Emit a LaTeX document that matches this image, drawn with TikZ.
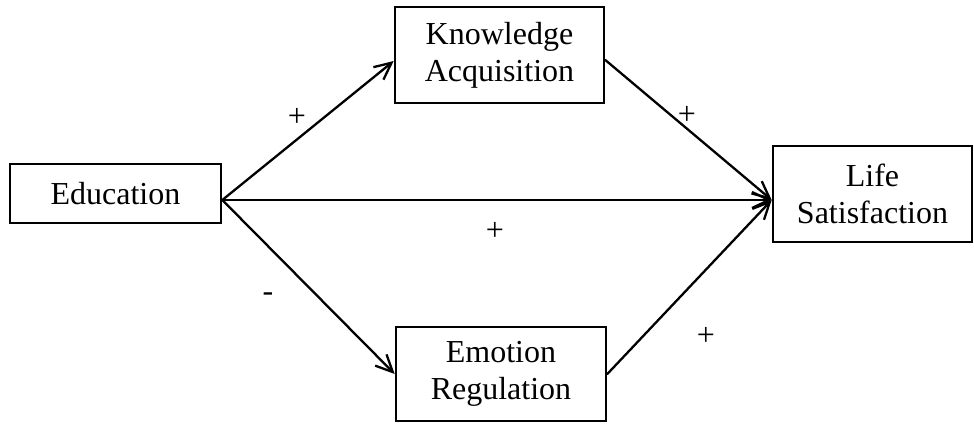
\documentclass[tikz,border=0pt]{standalone}
\usepackage{fontspec}
\setmainfont{Liberation Serif}
\usetikzlibrary{arrows.meta,calc}
\begin{document}
\begin{tikzpicture}[x=1pt,y=-1pt,
  box/.style={draw=black, line width=2.6pt, fill=white, inner sep=0pt, align=center,
    font=\fontsize{32}{37}\selectfont},
  conn/.style={draw=black, line width=2.3pt, line cap=round,
    -{Straight Barb[length=17pt,width=16pt]}},
  sign/.style={font=\fontsize{32}{37}\selectfont, inner sep=0pt}]
\useasboundingbox (0,0) rectangle (974,423);
\node[box, minimum width=211pt, minimum height=59pt] (edu) at (115.5,193.5) {Education};
\node[box, minimum width=209pt, minimum height=96pt] (know) at (499.5,55) {Knowledge\\Acquisition};
\node[box, minimum width=199pt, minimum height=96pt] (life) at (872.5,194) {Life\\Satisfaction};
\node[box, minimum width=210pt, minimum height=94pt] (emo) at (501,374) {Emotion\\Regulation};
\coordinate (eduout) at ($(edu.east)+(0,6.5)$);
\coordinate (lifein) at ($(life.west)+(0,6)$);
\draw[conn] (eduout) -- ($(know.west)+(0,6)$);
\draw[conn] (eduout) -- (emo.west);
\draw[conn] (eduout) -- (lifein);
\draw[conn] ($(know.east)+(0,5)$) -- (lifein);
\draw[conn] (emo.east) -- (lifein);
\node[sign] (s1) at (297,117) {+};
\node[sign] (s2) at (687,115) {+};
\node[sign] (s3) at (495,231) {+};
\node[sign] (s4) at (268,297) {-};
\node[sign] (s5) at (706,336) {+};
\end{tikzpicture}
\end{document}
